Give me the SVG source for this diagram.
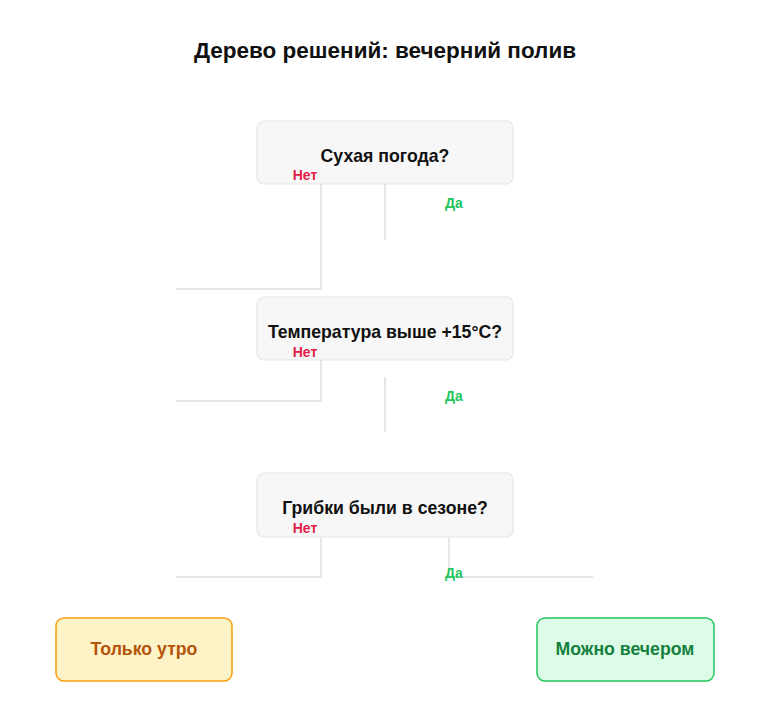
<svg xmlns="http://www.w3.org/2000/svg" width="770" height="722" viewBox="0 0 770 722">
<style>
text{font-family:"Liberation Sans",Arial,sans-serif;font-weight:bold;text-anchor:middle}
.title{font-size:22.5px;fill:#111}
.q rect{fill:#f7f7f7;stroke:#e5e5e5;stroke-width:1.2}
.q text{font-size:17.7px;fill:#111}
.no{font-size:14px;fill:#e11d48}
.yes{font-size:14px;fill:#22c55e}
.conn path{fill:none;stroke:#e5e5ea;stroke-width:2}
</style>
<rect width="770" height="722" fill="#fff"/>
<text class="title" x="385" y="58">Дерево решений: вечерний полив</text>
<g class="conn" id="connectors">
<path d="M321 184V289H176"/>
<path d="M385 184V240"/>
<path d="M321 360V401H176"/>
<path d="M385 377V432"/>
<path d="M321 537V577H176"/>
<path d="M449 537V577H593"/>
</g>
<g class="q" id="node-dry">
<rect x="257" y="121" width="256" height="63" rx="7"/>
<text x="385" y="162">Сухая погода?</text>
</g>
<g class="q" id="node-temp">
<rect x="257" y="297" width="256" height="63" rx="7"/>
<text x="385" y="338">Температура выше +15°C?</text>
</g>
<g class="q" id="node-fungi">
<rect x="257" y="473" width="256" height="64" rx="7"/>
<text x="385" y="514">Грибки были в сезоне?</text>
</g>
<g id="labels">
<text class="no" x="305" y="180">Нет</text>
<text class="yes" x="454" y="208">Да</text>
<text class="no" x="305" y="357">Нет</text>
<text class="yes" x="454" y="401">Да</text>
<text class="no" x="305" y="533">Нет</text>
<text class="yes" x="454" y="578">Да</text>
</g>
<g id="leaf-morning">
<rect x="56" y="618" width="176" height="63" rx="8" fill="#fef3c7" stroke="#f59e0b" stroke-width="1.5"/>
<text x="144" y="655" style="font-size:17.7px;fill:#b45309">Только утро</text>
</g>
<g id="leaf-evening">
<rect x="537" y="618" width="177" height="63" rx="8" fill="#dcfce7" stroke="#22c55e" stroke-width="1.5"/>
<text x="625" y="655" style="font-size:17.7px;fill:#15803d">Можно вечером</text>
</g>
</svg>
